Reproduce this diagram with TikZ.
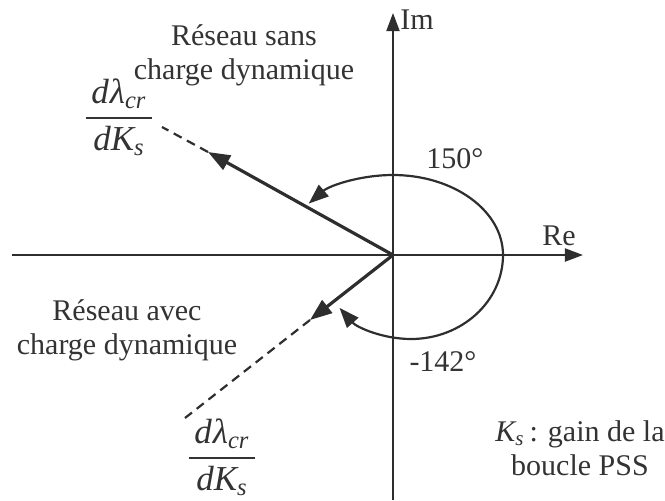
\documentclass[tikz,border=0pt]{standalone}
\usepackage{amsmath}
\usepackage{fontspec}
\setmainfont{Liberation Serif}
\usetikzlibrary{arrows.meta, positioning}
\definecolor{axisink}{HTML}{2E2E2E}
\definecolor{textink}{HTML}{333333}
\newcommand{\sensfrac}{$\dfrac{\,\textit{d\kern0.5ptλ}_{\textit{cr}}\,}{\,\textit{dK}_{\textit{s}}\,}$}

\begin{document}
\begin{tikzpicture}[x=0.5pt, y=0.5pt,
    axis/.style={draw=axisink, line width=1pt, -{Triangle[length=9pt, width=6.5pt]}},
    vector/.style={draw=axisink, line width=1.6pt, -{Triangle[length=11pt, width=8pt]}},
    trail/.style={draw=axisink, line width=1.1pt, dash pattern=on 4.5pt off 3pt},
    angarc/.style={draw=axisink, line width=1.1pt, -{Triangle[length=10pt, width=7.5pt]}},
    lbl/.style={text=textink, font=\fontsize{15}{17}\selectfont, align=center, inner sep=0pt},
    fraclbl/.style={lbl, font=\fontsize{17.5}{20}\selectfont}]
    \useasboundingbox (-393,-245) rectangle (272,255);
    \coordinate (O) at (0,0);
    \coordinate (reL) at (-381,0);
    \coordinate (reR) at (190,0);
    \coordinate (imB) at (0,-245);
    \coordinate (imT) at (0,242);
    \draw[axis] (reL) -- (reR);
    \draw[axis] (imB) -- (imT);
    \node[lbl, anchor=west] (im) at (7,235) {Im};
    \node[lbl] (re) at (166,19) {Re};

    % sensitivity directions
    \coordinate (v1) at (-185,103);
    \coordinate (t1) at (-231,128);
    \coordinate (v2) at (-83,-65);
    \coordinate (t2) at (-208,-163);
    \draw[trail] (v1) -- (t1);
    \draw[trail] (v2) -- (t2);
    \draw[vector] (O) -- (v1);
    \draw[vector] (O) -- (v2);

    % angles
    \coordinate (a0) at (110,0);
    \draw[angarc] (a0) arc[start angle=0, end angle=140, x radius=110, y radius=80];
    \draw[angarc] (a0) arc[start angle=0, end angle=-141, x radius=92, y radius=84];
    \node[lbl] (a150) at (62,96) {150°};
    \node[lbl] (a142) at (50,-107) {-142°};

    \node[lbl] (sans) at (-149,200) {Réseau sans\\charge dynamique};
    \node[fraclbl] (fracA) at (-274,138) {\sensfrac};
    \node[lbl] (avec) at (-266,-75) {Réseau avec\\charge dynamique};
    \node[fraclbl] (fracB) at (-171,-202) {\sensfrac};
    \node[lbl] (gain) at (187,-193) {$\textit{K}_{\textit{s}}$\,: gain de la\\boucle PSS};
  \end{tikzpicture}
\end{document}
